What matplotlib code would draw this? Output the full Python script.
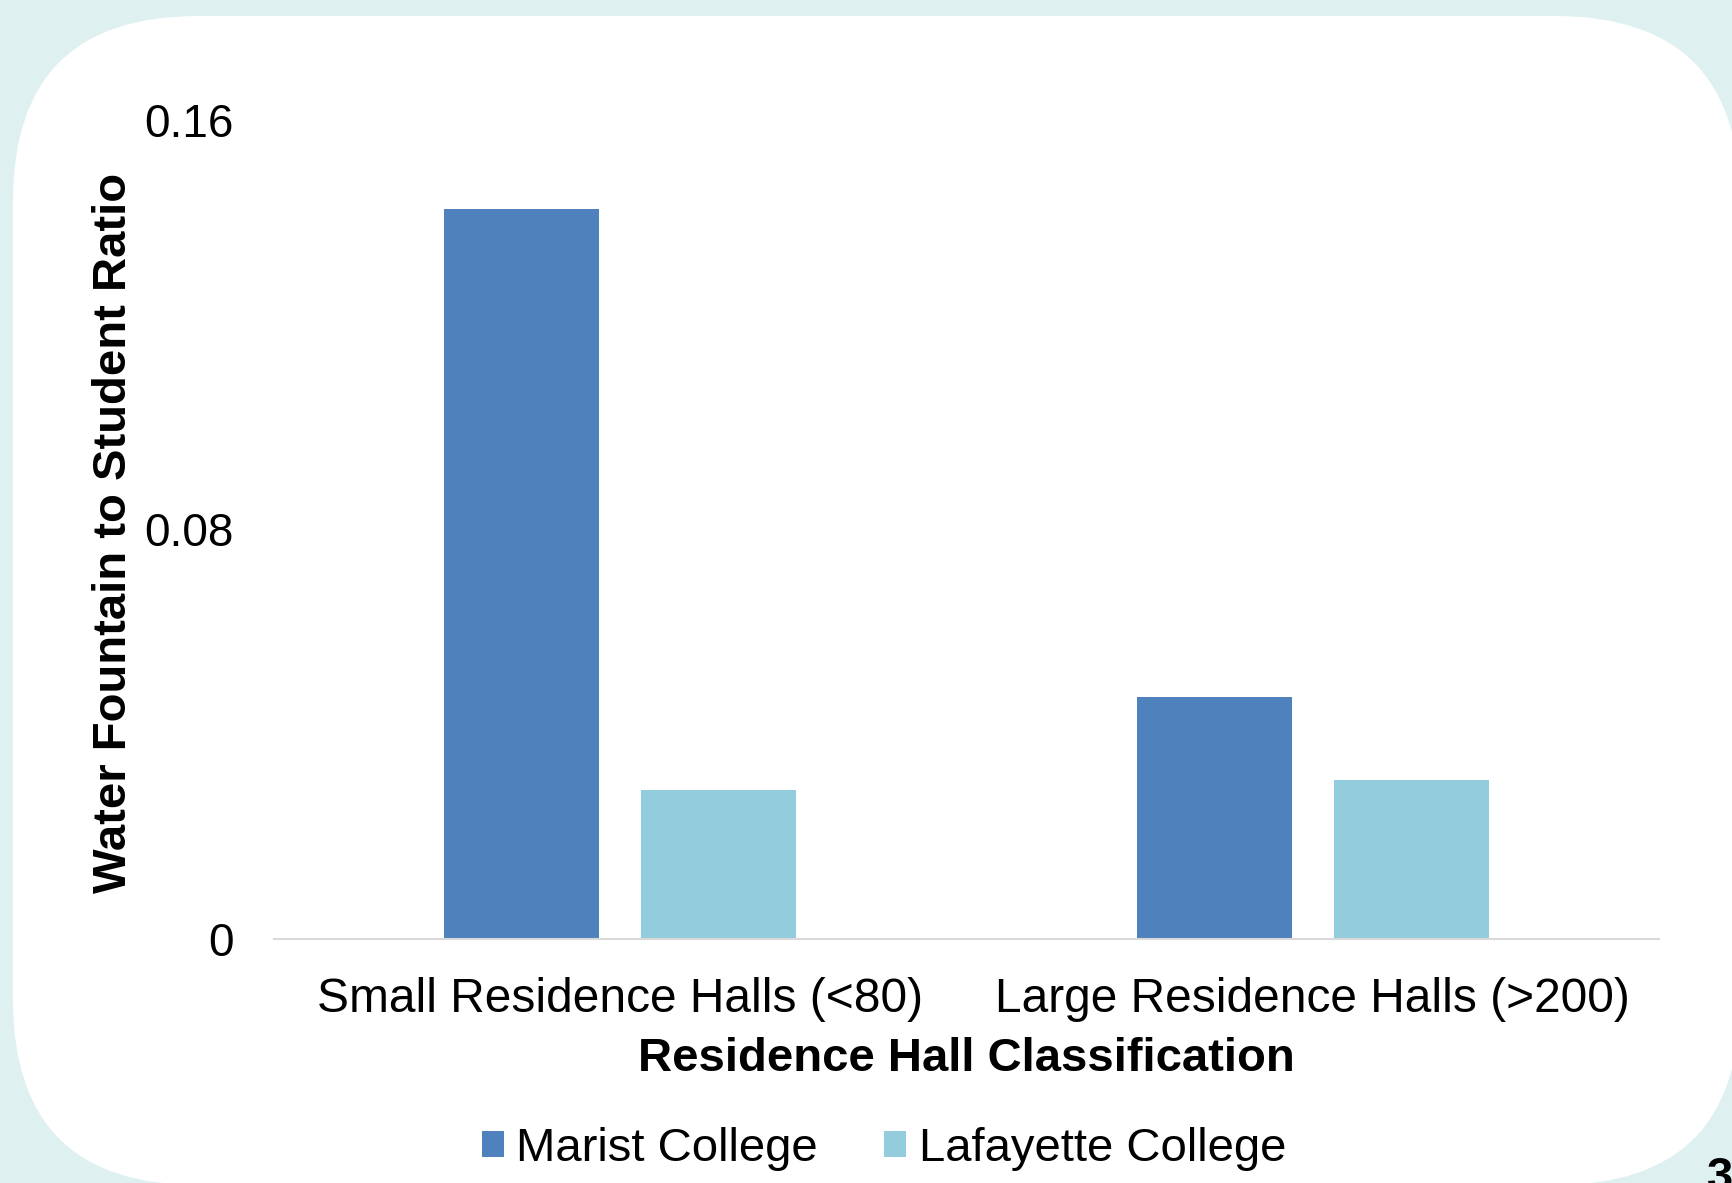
import matplotlib
matplotlib.use("Agg")
import matplotlib.pyplot as plt
from matplotlib.patches import FancyBboxPatch
from matplotlib.transforms import IdentityTransform
import numpy as np

plt.rcParams['font.family'] = ['Liberation Sans', 'DejaVu Sans']

categories = ["Small Residence Halls (<80)", "Large Residence Halls (>200)"]
series_names = ["Marist College", "Lafayette College"]
marist = [0.1426, 0.0473]
lafayette = [0.0291, 0.0311]
yticks = [0, 0.08, 0.16]
ytick_labels = ["0", "0.08", "0.16"]
colors = ["#4f81bd", "#93cddd"]

W, H = 1732, 1183
fig = plt.figure(figsize=(W / 100, H / 100), dpi=100)
fig.patch.set_facecolor("#def1f0")

# white rounded panel (pixel coordinates)
r = 185
left, right, top, bottom = 13, 1740, 16, 1185
panel = FancyBboxPatch((left + r, (H - bottom) + r), (right - left) - 2 * r, (bottom - top) - 2 * r,
                       boxstyle=f"round,pad={r},rounding_size={r}",
                       transform=IdentityTransform(), facecolor="white", edgecolor="none", zorder=0)
fig.add_artist(panel)

ax = fig.add_axes([274 / W, 1 - 939 / H, (1659 - 274) / W, (939 - 120) / H])
ax.set_facecolor("none")
ax.set_zorder(2)

x = np.arange(len(categories))
bw = 0.224
off = 0.142
ax.bar(x - off, marist, width=bw, color=colors[0], label=series_names[0])
ax.bar(x + off, lafayette, width=bw, color=colors[1], label=series_names[1])

ax.set_xlim(-0.5, 1.5)
ax.set_ylim(0, 0.16)
ax.set_yticks(yticks)
ax.set_yticklabels(ytick_labels)
ax.set_xticks(x)
ax.set_xticklabels(categories)
ax.tick_params(axis='both', length=0)
ax.tick_params(axis='y', pad=29, labelsize=33)
ax.tick_params(axis='x', pad=27, labelsize=34.5)

for s in ["left", "right", "top"]:
    ax.spines[s].set_visible(False)
ax.spines["bottom"].set_color("#d9d9d9")
ax.spines["bottom"].set_linewidth(1.5)

ax.set_xlabel("Residence Hall Classification", fontsize=34, fontweight="bold")
ax.xaxis.set_label_coords(0.5, (939 - 1059) / 819)
ax.xaxis.label.set_va("center")
ax.set_ylabel("Water Fountain to Student Ratio", fontsize=34, fontweight="bold")
ax.yaxis.set_label_coords((114 - 274) / 1385, (939 - 533) / 819)
ax.yaxis.label.set_va("center")

fig.legend(loc="center", bbox_to_anchor=(884 / W, 1 - 1149 / H), ncol=2, frameon=False,
           fontsize=34, handlelength=0.47, handleheight=0.47, handletextpad=0.26,
           columnspacing=1.4)

fig.text(1707 / W, -7 / H, "3", ha="left", va="baseline", fontsize=34, fontweight="bold")

fig.savefig("out.png", dpi=100, facecolor=fig.get_facecolor())
